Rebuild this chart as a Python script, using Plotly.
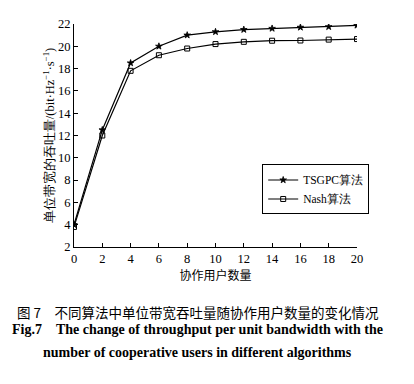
import plotly.graph_objects as go

users = [0, 2, 4, 6, 8, 10, 12, 14, 16, 18, 20]
tsgpc = [4.0, 12.5, 18.5, 20.0, 21.0, 21.3, 21.5, 21.6, 21.7, 21.75, 21.88]
nash = [3.8, 12.0, 17.8, 19.2, 19.8, 20.2, 20.4, 20.5, 20.52, 20.6, 20.65]
x_ticks = [0, 2, 4, 6, 8, 10, 12, 14, 16, 18, 20]
y_ticks = [2, 4, 6, 8, 10, 12, 14, 16, 18, 20, 22]

SERIF = "Liberation Serif"
CJK = "Noto Sans CJK SC"

fig = go.Figure()
fig.add_trace(go.Scatter(x=users, y=tsgpc, mode="lines+markers", name="TSGPC算法",
                         line=dict(color="black", width=1.2),
                         marker=dict(symbol="star", size=5, color="black",
                                     line=dict(color="black", width=0.8))))
fig.add_trace(go.Scatter(x=users, y=nash, mode="lines+markers", name="Nash算法",
                         line=dict(color="black", width=1.2),
                         marker=dict(symbol="square-open", size=5, color="black",
                                     line=dict(color="black", width=1))))

# page body has an 8px default margin, so the figure is drawn 8px smaller and offset
fig.update_layout(
    width=406, height=376,
    margin=dict(l=66, r=57, t=16, b=137),
    paper_bgcolor="white", plot_bgcolor="white",
    font=dict(family=SERIF, size=12.5, color="black"),
    showlegend=True,
    legend=dict(x=0.665, y=0.37, xanchor="left", yanchor="top",
                bordercolor="black", borderwidth=1, bgcolor="white",
                font=dict(family=SERIF, size=11.5), tracegroupgap=0,
                itemwidth=30),
    xaxis=dict(range=[0, 20], tickvals=x_ticks, ticks="inside", ticklen=4,
               tickcolor="black", showline=True, linecolor="black", linewidth=1.2,
               showgrid=False, zeroline=False, mirror=False, automargin=False,
               title=dict(text="协作用户数量", font=dict(family=CJK, size=12), standoff=2)),
    yaxis=dict(range=[2, 22], tickvals=y_ticks, ticks="inside", ticklen=4,
               tickcolor="black", showline=True, linecolor="black", linewidth=1.2,
               showgrid=False, zeroline=False, mirror=False, automargin=False,
               title=dict(text="单位带宽的吞吐量/(bit·Hz<sup>−1</sup>·s<sup>−1</sup>)",
                          font=dict(family=SERIF, size=12.5), standoff=0)),
)

fig.add_annotation(text="图 7　不同算法中单位带宽吞吐量随协作用户数量的变化情况",
                   xref="paper", yref="paper", x=0.438, y=-0.292, xanchor="center", yanchor="middle",
                   showarrow=False, font=dict(family=CJK, size=13.5, color="black"))
fig.add_annotation(text="<b>Fig.7　The change of throughput per unit bandwidth with the</b>",
                   xref="paper", yref="paper", x=0.438, y=-0.368, xanchor="center", yanchor="middle",
                   showarrow=False, font=dict(family=SERIF, size=14, color="black"))
fig.add_annotation(text="<b>number of cooperative users in different algorithms</b>",
                   xref="paper", yref="paper", x=0.438, y=-0.471, xanchor="center", yanchor="middle",
                   showarrow=False, font=dict(family=SERIF, size=14, color="black"))

fig.write_html("out.html")
